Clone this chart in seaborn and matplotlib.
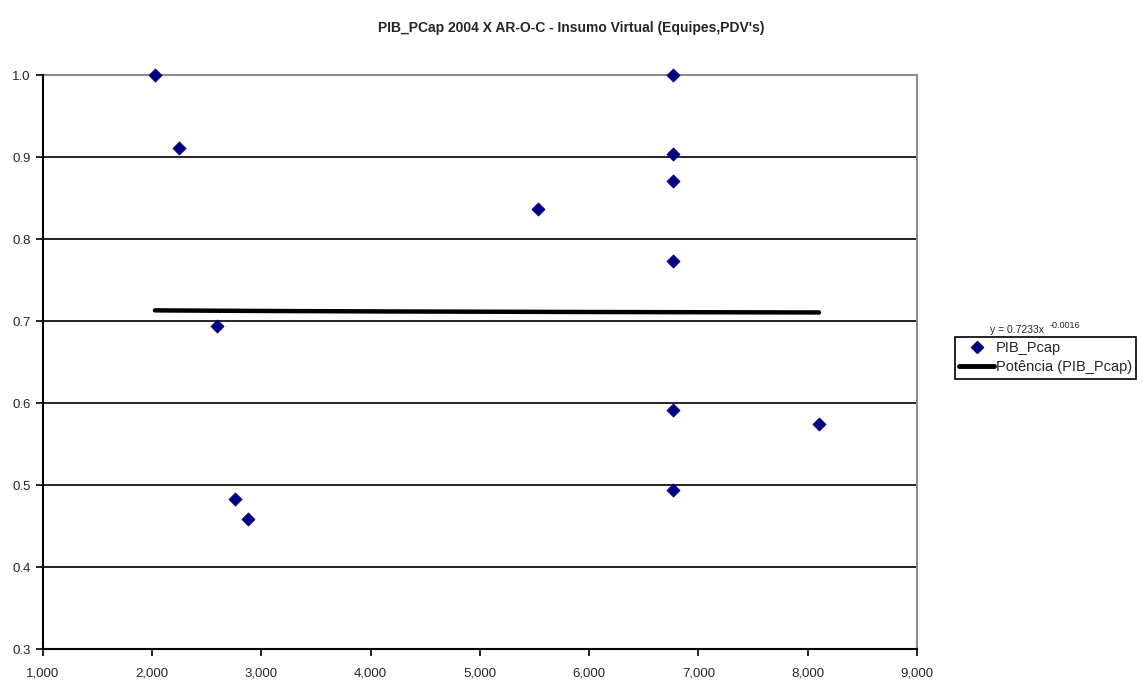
import numpy as np
import pandas as pd
import matplotlib
matplotlib.use("Agg")
import matplotlib.pyplot as plt
import seaborn as sns
from matplotlib.lines import Line2D
from matplotlib.ticker import FuncFormatter

sns.set_style("white")
plt.rcParams['font.family'] = ['Liberation Sans', 'DejaVu Sans']

# Data
pib_pcap = [2025, 2245, 2593, 2757, 2876, 5531, 6767, 6767, 6767, 6767, 6767, 6767, 8103]
eficiencia = [1.0, 0.911, 0.694, 0.483, 0.459, 0.837, 1.0, 0.904, 0.871, 0.773, 0.591, 0.494, 0.574]
x_ticks = [1000, 2000, 3000, 4000, 5000, 6000, 7000, 8000, 9000]
y_ticks = [0.3, 0.4, 0.5, 0.6, 0.7, 0.8, 0.9, 1.0]
title = "PIB_PCap 2004 X AR-O-C - Insumo Virtual (Equipes,PDV's)"
equation_text = "y = 0.7233x"
equation_exp = "-0.0016"

df = pd.DataFrame({"PIB_Pcap": pib_pcap, "Eff": eficiencia})

# Power trendline fitted from the data (y = a * x^b)
b, loga = np.polyfit(np.log(df["PIB_Pcap"]), np.log(df["Eff"]), 1)
xt = np.linspace(df["PIB_Pcap"].min(), df["PIB_Pcap"].max(), 200)
trend = pd.DataFrame({"x": xt, "y": np.exp(loga) * xt ** b})

fig = plt.figure(figsize=(11.48, 6.84), dpi=100)
ax = fig.add_axes([43/1148, 1-649/684, (917-43)/1148, (649-75)/684])

for yv in y_ticks[1:-1]:
    ax.axhline(yv, color="black", lw=1.2, zorder=1)

sns.lineplot(data=trend, x="x", y="y", ax=ax, color="black", lw=3.2, zorder=2,
             legend=False, solid_capstyle="round")
sns.scatterplot(data=df, x="PIB_Pcap", y="Eff", ax=ax, marker="D", color="#000080",
                s=45, edgecolor="#000080", linewidth=0.5, zorder=4, legend=False,
                clip_on=False)

ax.set_xlim(1000, 9000)
ax.set_ylim(0.3, 1.0)
ax.set_xticks(x_ticks)
ax.set_yticks(y_ticks)
ax.xaxis.set_major_formatter(FuncFormatter(lambda v, p: f"{int(v):,}"))
ax.yaxis.set_major_formatter(FuncFormatter(lambda v, p: f"{v:.1f}"))
ax.tick_params(axis="both", direction="out", length=5, width=1.2, color="black",
               labelsize=9.5, bottom=True, left=True)
ax.tick_params(axis="x", pad=8)
ax.tick_params(axis="y", pad=4)
ax.set_xlabel("")
ax.set_ylabel("")

for side in ["top", "right"]:
    ax.spines[side].set_color("#8c8c8c")
    ax.spines[side].set_linewidth(1.5)
for side in ["left", "bottom"]:
    ax.spines[side].set_color("black")
    ax.spines[side].set_linewidth(1.5)
    ax.spines[side].set_zorder(3)

fig.text(571/1148, 1-28/684, title, ha="center", va="center",
         fontsize=10, fontweight="bold")

# Trendline equation just above the legend box
fig.text(990/1148, 1-333/684, equation_text, fontsize=7.5, ha="left", va="baseline", zorder=1)
fig.text(1050/1148, 1-328/684, equation_exp, fontsize=6.5, ha="left", va="baseline", zorder=1)

handles = [
    Line2D([0], [0], marker="D", color="none", markerfacecolor="#000080",
           markeredgecolor="#000080", markersize=6.5),
    Line2D([0], [0], color="black", lw=3.5),
]
leg = fig.legend(handles, ["PIB_Pcap", "Potência (PIB_Pcap)"],
                 loc="upper left", bbox_to_anchor=(955/1148, 1-337/684),
                 frameon=True, fancybox=False, fontsize=10.5, borderpad=0.3,
                 handlelength=2.4, handletextpad=0.1, labelspacing=0.35,
                 borderaxespad=0, framealpha=1)
leg.get_frame().set_edgecolor("black")
leg.get_frame().set_linewidth(1.2)
leg.set_zorder(5)

fig.savefig("out.png", dpi=100, facecolor="white")
